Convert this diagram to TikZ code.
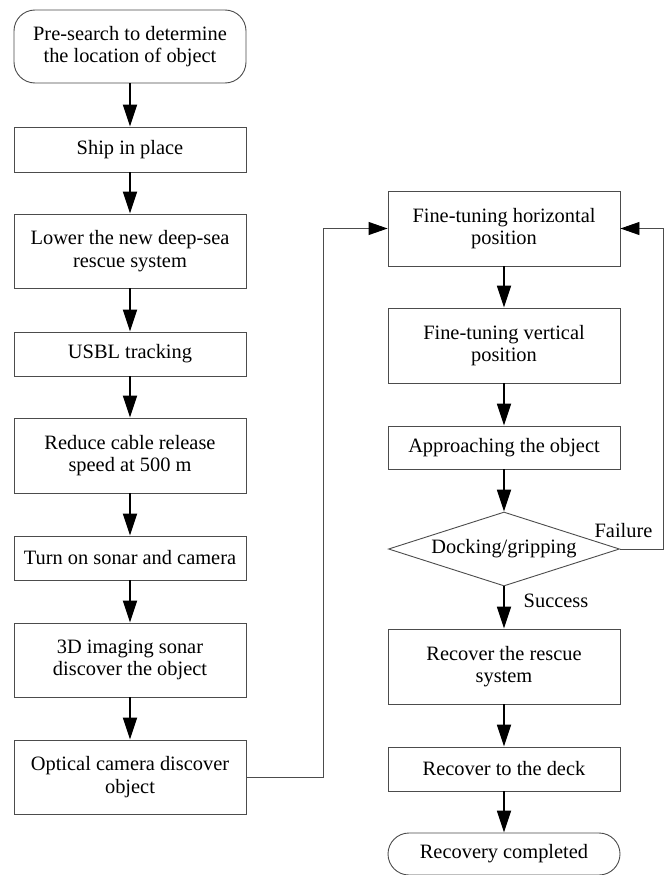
\documentclass[tikz,border=0pt]{standalone}
\usepackage{fontspec}
\setmainfont{Liberation Serif}
\usetikzlibrary{arrows.meta,shapes.geometric}
\begin{document}
\begin{tikzpicture}[x=1pt,y=-1pt,
  box/.style={draw=black!70,line width=0.9pt,minimum width=232pt,inner sep=2pt,align=center,
    font=\fontsize{20.4}{22.5}\selectfont},
  term/.style={box,rounded corners=21pt},
  dec/.style={draw=black!70,line width=0.9pt,diamond,aspect=3.1,minimum width=231pt,minimum height=74pt,inner sep=0pt,
    font=\fontsize{20.4}{22.5}\selectfont},
  lbl/.style={font=\fontsize{20.4}{22.5}\selectfont,inner sep=0pt},
  mainarrow/.style={line width=1.8pt,-{Triangle[length=22pt,width=14pt]}},
  sidearrow/.style={draw=black!70,line width=0.9pt,-{Triangle[length=19pt,width=13pt,color=black]}}]
\fill[white] (0,0) rectangle (666,875);
\useasboundingbox (0,0) rectangle (666,875);
% left column
\node[term,minimum height=73pt] (start) at (130,46.5) {Pre-search to determine\\the location of object};
\node[box,minimum height=45pt] (ship) at (130,149.5) {Ship in place};
\node[box,minimum height=74pt] (lower) at (130,251) {Lower the new deep-sea\\rescue system};
\node[box,minimum height=44pt] (usbl) at (130,354) {USBL tracking};
\node[box,minimum height=75pt] (reduce) at (130,455.5) {Reduce cable release\\speed at 500 m};
\node[box,minimum height=44pt] (turn) at (130,558) {Turn on sonar and camera};
\node[box,minimum height=74pt] (sonar) at (130,660) {3D imaging sonar\\discover the object};
\node[box,minimum height=74pt] (optical) at (130,777) {Optical camera discover\\object};
% right column
\node[box,minimum height=75pt] (fineh) at (504,228.5) {Fine-tuning horizontal\\position};
\node[box,minimum height=75pt] (finev) at (504,345.5) {Fine-tuning vertical\\position};
\node[box,minimum height=43pt] (appr) at (504,447.5) {Approaching the object};
\node[dec] (dock) at (504,549) {Docking/gripping};
\node[box,minimum height=75pt] (rescue) at (504,666.5) {Recover the rescue\\system};
\node[box,minimum height=44pt] (deck) at (504,769) {Recover to the deck};
\node[term,minimum height=42pt] (done) at (504,854) {Recovery completed};
% main arrows
\draw[mainarrow] (start) -- (ship);
\draw[mainarrow] (ship) -- (lower);
\draw[mainarrow] (lower) -- (usbl);
\draw[mainarrow] (usbl) -- (reduce);
\draw[mainarrow] (reduce) -- (turn);
\draw[mainarrow] (turn) -- (sonar);
\draw[mainarrow] (sonar) -- (optical);
\draw[mainarrow] (fineh) -- (finev);
\draw[mainarrow] (finev) -- (appr);
\draw[mainarrow] (appr) -- (dock);
\draw[mainarrow] (dock) -- (rescue);
\draw[mainarrow] (rescue) -- (deck);
\draw[mainarrow] (deck) -- (done);
% side connectors
\coordinate (j1) at (323,777);
\coordinate (j2) at (663,549);
\draw[sidearrow] (optical.east) -- (j1) |- (fineh.west);
\draw[sidearrow] (dock.east) -- (j2) |- (fineh.east);
\node[lbl] (fail) at (623.5,531) {Failure};
\node[lbl] (succ) at (556,601) {Success};
\end{tikzpicture}
\end{document}
